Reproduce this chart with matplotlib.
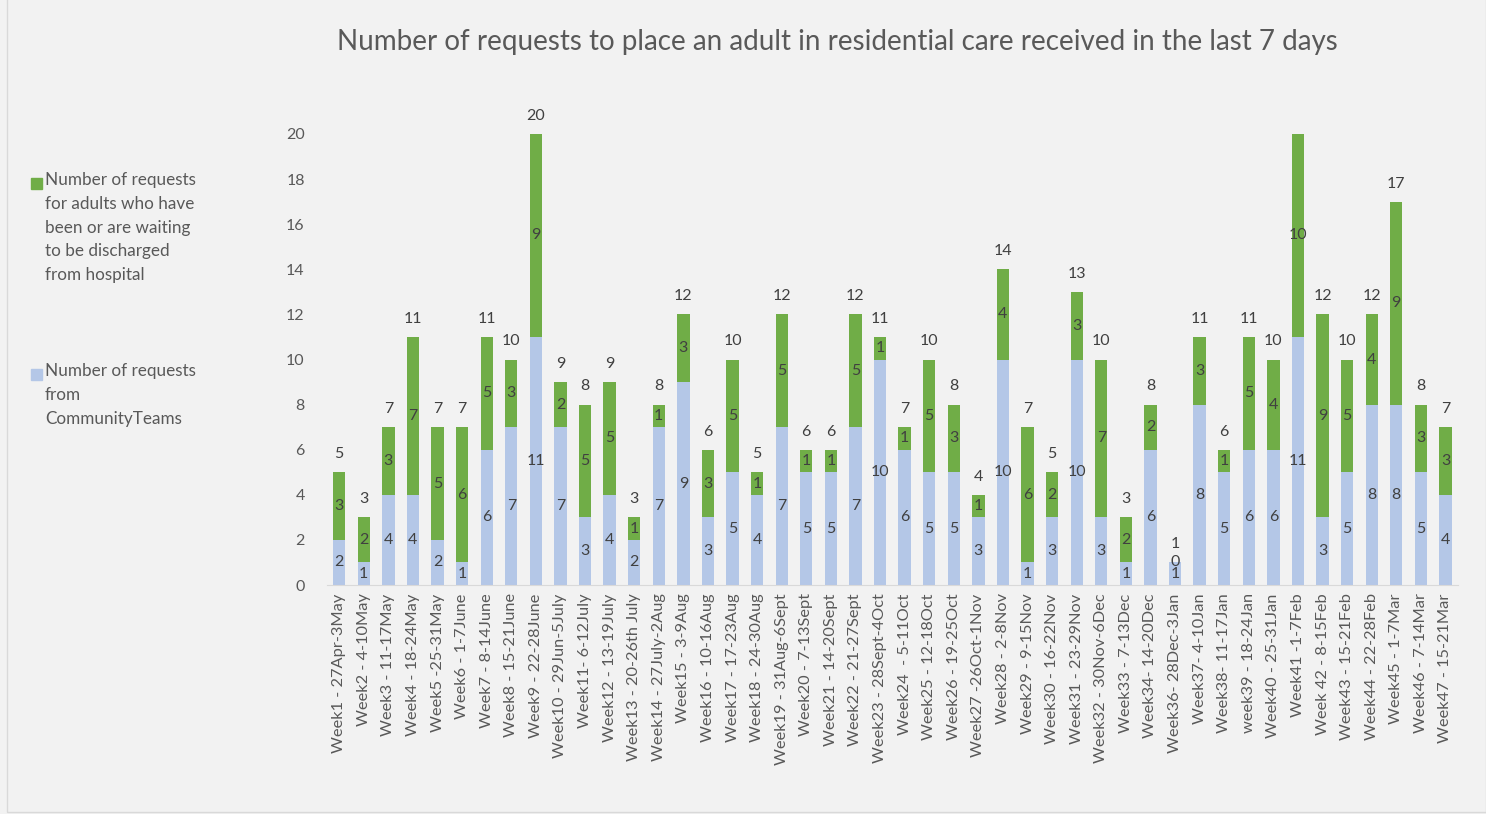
import matplotlib
matplotlib.use("Agg")
import matplotlib.pyplot as plt
from matplotlib.patches import Rectangle
import numpy as np

plt.rcParams['font.family'] = ['Lato', 'DejaVu Sans']

weeks = ["Week1 - 27Apr-3May", "Week2 - 4-10May", "Week3 - 11-17May", "Week4 - 18-24May",
         "Week5 -25-31May", "Week6 - 1-7June", "Week7 - 8-14June", "Week8 - 15-21June",
         "Week9 - 22-28June", "Week10 - 29Jun-5July", "Week11- 6-12July", "Week12 - 13-19July",
         "Week13 - 20-26th July", "Week14 - 27July-2Aug", "Week15 - 3-9Aug", "Week16 - 10-16Aug",
         "Week17 - 17-23Aug", "Week18 - 24-30Aug", "Week19 - 31Aug-6Sept", "Week20 - 7-13Sept",
         "Week21 - 14-20Sept", "Week22 - 21-27Sept", "Week23 - 28Sept-4Oct", "Week24  - 5-11Oct",
         "Week25 - 12-18Oct", "Week26 - 19-25Oct", "Week27 -26Oct-1Nov", "Week28 - 2-8Nov",
         "Week29 - 9-15Nov", "Week30 - 16-22Nov", "Week31 - 23-29Nov", "Week32 - 30Nov-6Dec",
         "Week33 - 7-13Dec", "Week34- 14-20Dec", "Week36- 28Dec-3Jan", "Week37- 4-10Jan",
         "Week38- 11-17Jan", "week39 - 18-24Jan", "Week40 - 25-31Jan", "Week41 -1-7Feb",
         "Week 42 - 8-15Feb", "Week43 - 15-21Feb", "Week44 - 22-28Feb", "Week45 - 1-7Mar",
         "Week46 - 7-14Mar", "Week47 - 15-21Mar"]

community = [2, 1, 4, 4, 2, 1, 6, 7, 11, 7, 3, 4, 2, 7, 9, 3, 5, 4, 7, 5, 5, 7, 10,
             6, 5, 5, 3, 10, 1, 3, 10, 3, 1, 6, 1, 8, 5, 6, 6, 11, 3, 5, 8, 8, 5, 4]
hospital = [3, 2, 3, 7, 5, 6, 5, 3, 9, 2, 5, 5, 1, 1, 3, 3, 5, 1, 5, 1, 1, 5, 1,
            1, 5, 3, 1, 4, 6, 2, 3, 7, 2, 2, 0, 3, 1, 5, 4, 10, 9, 5, 4, 9, 3, 3]

label_hosp = "Number of requests\nfor adults who have\nbeen or are waiting\nto be discharged\nfrom hospital"
label_comm = "Number of requests\nfrom\nCommunityTeams"

BG = "#f2f2f2"
TXT = "#595959"
GREEN = "#70ad47"
BLUE = "#b4c7e7"

fig = plt.figure(figsize=(14.86, 8.14), dpi=100, facecolor=BG)
ax = fig.add_axes([0.22, 0.2813, 0.761, 0.5541])
ax.set_facecolor(BG)

x = np.arange(len(weeks))
b1 = ax.bar(x, community, width=0.5, color=BLUE)
b2 = ax.bar(x, hospital, width=0.5, bottom=community, color=GREEN)
ax.bar_label(b1, label_type='center', fontsize=11.5, color="#404040")
ax.bar_label(b2, label_type='center', fontsize=11.5, color="#404040")

totals = np.array(community) + np.array(hospital)
for xi, t in zip(x, totals):
    ax.annotate(str(t), (xi, t), xytext=(0, 8), textcoords="offset points",
                ha="center", va="bottom", fontsize=11.5, color="#404040",
                annotation_clip=True)

ax.set_ylim(0, 20)
ax.set_xlim(-0.5, len(weeks) - 0.5)
ax.set_yticks(range(0, 21, 2))
ax.set_xticks(x)
ax.set_xticklabels(weeks, rotation=90, fontsize=11.8, color=TXT)
ax.tick_params(axis='y', labelsize=11.5, labelcolor=TXT, length=0, pad=16)
ax.tick_params(axis='x', length=0, pad=6)
for s in ['left', 'right', 'top']:
    ax.spines[s].set_visible(False)
ax.spines['bottom'].set_color("#d9d9d9")

fig.text(0.5635, 0.949, "Number of requests to place an adult in residential care received in the last 7 days",
         ha="center", va="center", fontsize=20, color=TXT)

# legend
fig.patches.append(Rectangle((31 / 1486, 1 - 189 / 814), 11 / 1486, 11 / 814,
                             transform=fig.transFigure, color=GREEN))
fig.text(45 / 1486, 1 - 172 / 814, label_hosp, ha="left", va="top", fontsize=12.3,
         color=TXT, linespacing=1.6)
fig.patches.append(Rectangle((31 / 1486, 1 - 380 / 814), 11 / 1486, 11 / 814,
                             transform=fig.transFigure, color=BLUE))
fig.text(45 / 1486, 1 - 363 / 814, label_comm, ha="left", va="top", fontsize=12.3,
         color=TXT, linespacing=1.6)

fig.patches.append(Rectangle((7 / 1486, 2 / 814), 1 - 7 / 1486, 1, transform=fig.transFigure,
                             fill=False, edgecolor="#d9d9d9", linewidth=1))

fig.savefig("out.png", dpi=100, facecolor=BG)
